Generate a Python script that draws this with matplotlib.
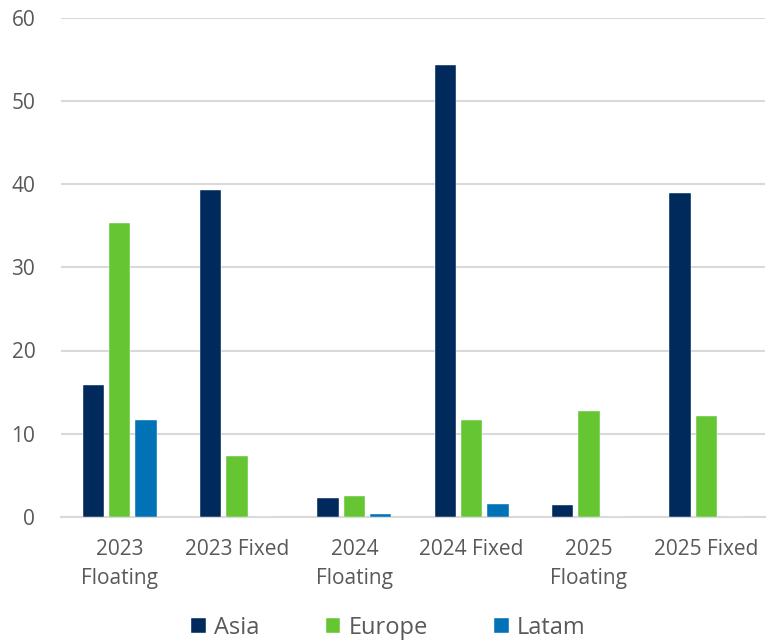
import matplotlib
matplotlib.use("Agg")
import matplotlib.pyplot as plt
import numpy as np

categories = ["2023\nFloating", "2023 Fixed", "2024\nFloating", "2024 Fixed", "2025\nFloating", "2025 Fixed"]
asia = [15.9, 39.3, 2.3, 54.3, 1.5, 38.9]
europe = [35.3, 7.3, 2.5, 11.6, 12.7, 12.1]
latam = [11.7, 0, 0.4, 1.6, 0, 0]
series_names = ["Asia", "Europe", "Latam"]
colors = ["#002A5C", "#66C533", "#0072B5"]
yticks = [0, 10, 20, 30, 40, 50, 60]

plt.rcParams['font.family'] = ['Open Sans', 'DejaVu Sans']
text_color = "#595959"

fig = plt.figure(figsize=(7.69, 6.43), dpi=100)
ax = fig.add_axes([61/769, 126/643, (765-61)/769, (517-17.5)/643])

x = np.arange(len(categories))
w = 0.18
step = 0.224
for i, (vals, name, c) in enumerate(zip([asia, europe, latam], series_names, colors)):
    ax.bar(x + (i - 1) * step, vals, width=w, color=c, label=name,
           edgecolor="white", linewidth=0.3, zorder=3)

ax.set_xlim(-0.5, len(categories) - 0.5)
ax.set_ylim(0, 60)
ax.set_yticks(yticks)
ax.set_xticks(x)
ax.set_xticklabels(categories, fontsize=15, color=text_color, linespacing=1.5)
ax.tick_params(axis='y', labelsize=15, labelcolor=text_color, length=0, pad=18.5)
ax.tick_params(axis='x', length=0, pad=16)
ax.grid(axis='y', color="#d9d9d9", linewidth=1.5, zorder=0)
for s in ["top", "right", "left"]:
    ax.spines[s].set_visible(False)
ax.spines["bottom"].set_color("#d9d9d9")
ax.spines["bottom"].set_linewidth(1.5)

leg = fig.legend(loc="lower center", bbox_to_anchor=(0.505, -0.028), ncol=3, frameon=False,
                 fontsize=17, handlelength=0.62, handleheight=0.62, handletextpad=0.35,
                 columnspacing=2.8)
for t in leg.get_texts():
    t.set_color(text_color)

fig.savefig("out.png", dpi=100)
